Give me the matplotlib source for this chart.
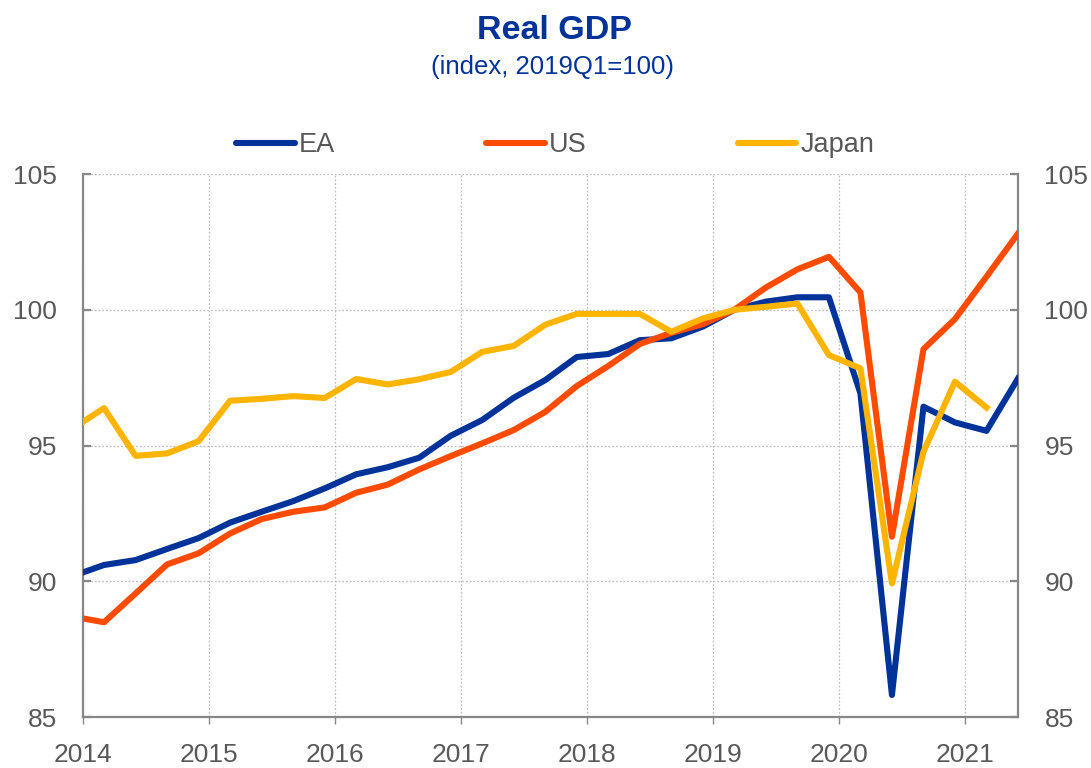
import numpy as np
import matplotlib
matplotlib.use("Agg")
import matplotlib.pyplot as plt

plt.rcParams['font.family'] = ['Liberation Sans', 'DejaVu Sans']

# Datos trimestrales (indice, 2019Q1=100)
quarters = ['2013Q4',
            '2014Q1', '2014Q2', '2014Q3', '2014Q4',
            '2015Q1', '2015Q2', '2015Q3', '2015Q4',
            '2016Q1', '2016Q2', '2016Q3', '2016Q4',
            '2017Q1', '2017Q2', '2017Q3', '2017Q4',
            '2018Q1', '2018Q2', '2018Q3', '2018Q4',
            '2019Q1', '2019Q2', '2019Q3', '2019Q4',
            '2020Q1', '2020Q2', '2020Q3', '2020Q4',
            '2021Q1', '2021Q2']
ea = [90.19, 90.60, 90.78, 91.19, 91.59, 92.16, 92.56, 92.95, 93.42,
      93.94, 94.20, 94.55, 95.36, 95.94, 96.76, 97.41, 98.26, 98.37,
      98.88, 98.95, 99.38, 100.0, 100.30, 100.46, 100.46, 96.92, 85.81,
      96.43, 95.85, 95.54, 97.47]
us = [88.70, 88.49, 89.55, 90.62, 91.03, 91.76, 92.29, 92.56, 92.72,
      93.26, 93.56, 94.12, 94.61, 95.08, 95.57, 96.24, 97.19, 97.93,
      98.74, 99.15, 99.47, 100.0, 100.82, 101.49, 101.95, 100.64, 91.64,
      98.55, 99.66, 101.22, 102.81]
japan = [95.62, 96.38, 94.62, 94.71, 95.16, 96.65, 96.72, 96.82, 96.75,
         97.45, 97.25, 97.44, 97.71, 98.45, 98.67, 99.45, 99.85, 99.85,
         99.85, 99.19, 99.68, 100.0, 100.11, 100.23, 98.33, 97.84, 89.92,
         94.77, 97.35, 96.40, np.nan]
year_ticks = [2014, 2015, 2016, 2017, 2018, 2019, 2020, 2021]
y_ticks = [85, 90, 95, 100, 105]

# Posicion de cada trimestre (mes central del trimestre)
x = np.array([int(q[:4]) + (3 * int(q[5]) - 1) / 12 for q in quarters])

blue = '#003299'
grey = '#595959'
axis_grey = '#888888'

fig = plt.figure(figsize=(10.91, 7.68), dpi=100)
ax = fig.add_axes([0.0761, 0.0664, 0.857, 0.707])

ax.plot(x, ea, color='#003399', lw=4.4, solid_joinstyle='round', label='EA', zorder=3)
ax.plot(x, us, color='#FF4B00', lw=4.4, solid_joinstyle='round', label='US', zorder=4)
ax.plot(x, japan, color='#FFB400', lw=4.4, solid_joinstyle='round', label='Japan', zorder=5)

ax.set_xlim(2014, x[-1])
ax.set_ylim(85, 105)
ax.set_xticks(year_ticks)
ax.set_yticks(y_ticks)

ax.grid(True, color='#BFBFBF', linestyle=(0, (1.5, 1.5)), linewidth=0.9)
ax.set_axisbelow(True)

ax.spines['top'].set_visible(False)
for s in ['left', 'right', 'bottom']:
    ax.spines[s].set_color(axis_grey)
    ax.spines[s].set_linewidth(1.6)

ax.tick_params(axis='y', which='both', direction='in', length=6, width=1.6,
               color=axis_grey, left=True, right=True, labelleft=True,
               labelright=True, labelsize=19, labelcolor=grey, pad=19)
ax.tick_params(axis='x', direction='out', length=5, width=1,
               color=axis_grey, labelsize=19, labelcolor=grey, pad=14)

# Titulos
fig.text(0.508, 0.949, 'Real GDP', ha='center', va='baseline',
         fontsize=24.5, fontweight='bold', color=blue)
fig.text(0.506, 0.904, '(index, 2019Q1=100)', ha='center', va='baseline',
         fontsize=18.5, color=blue)

leg = fig.legend(loc='center', bbox_to_anchor=(0.509, 0.811), ncol=3,
                 frameon=False, fontsize=19.5, handlelength=2.15,
                 handletextpad=0.15, columnspacing=5.6)
for t in leg.get_texts():
    t.set_color(grey)
for h in leg.get_lines():
    h.set_solid_capstyle('round')

plt.savefig('out.png', dpi=100)
